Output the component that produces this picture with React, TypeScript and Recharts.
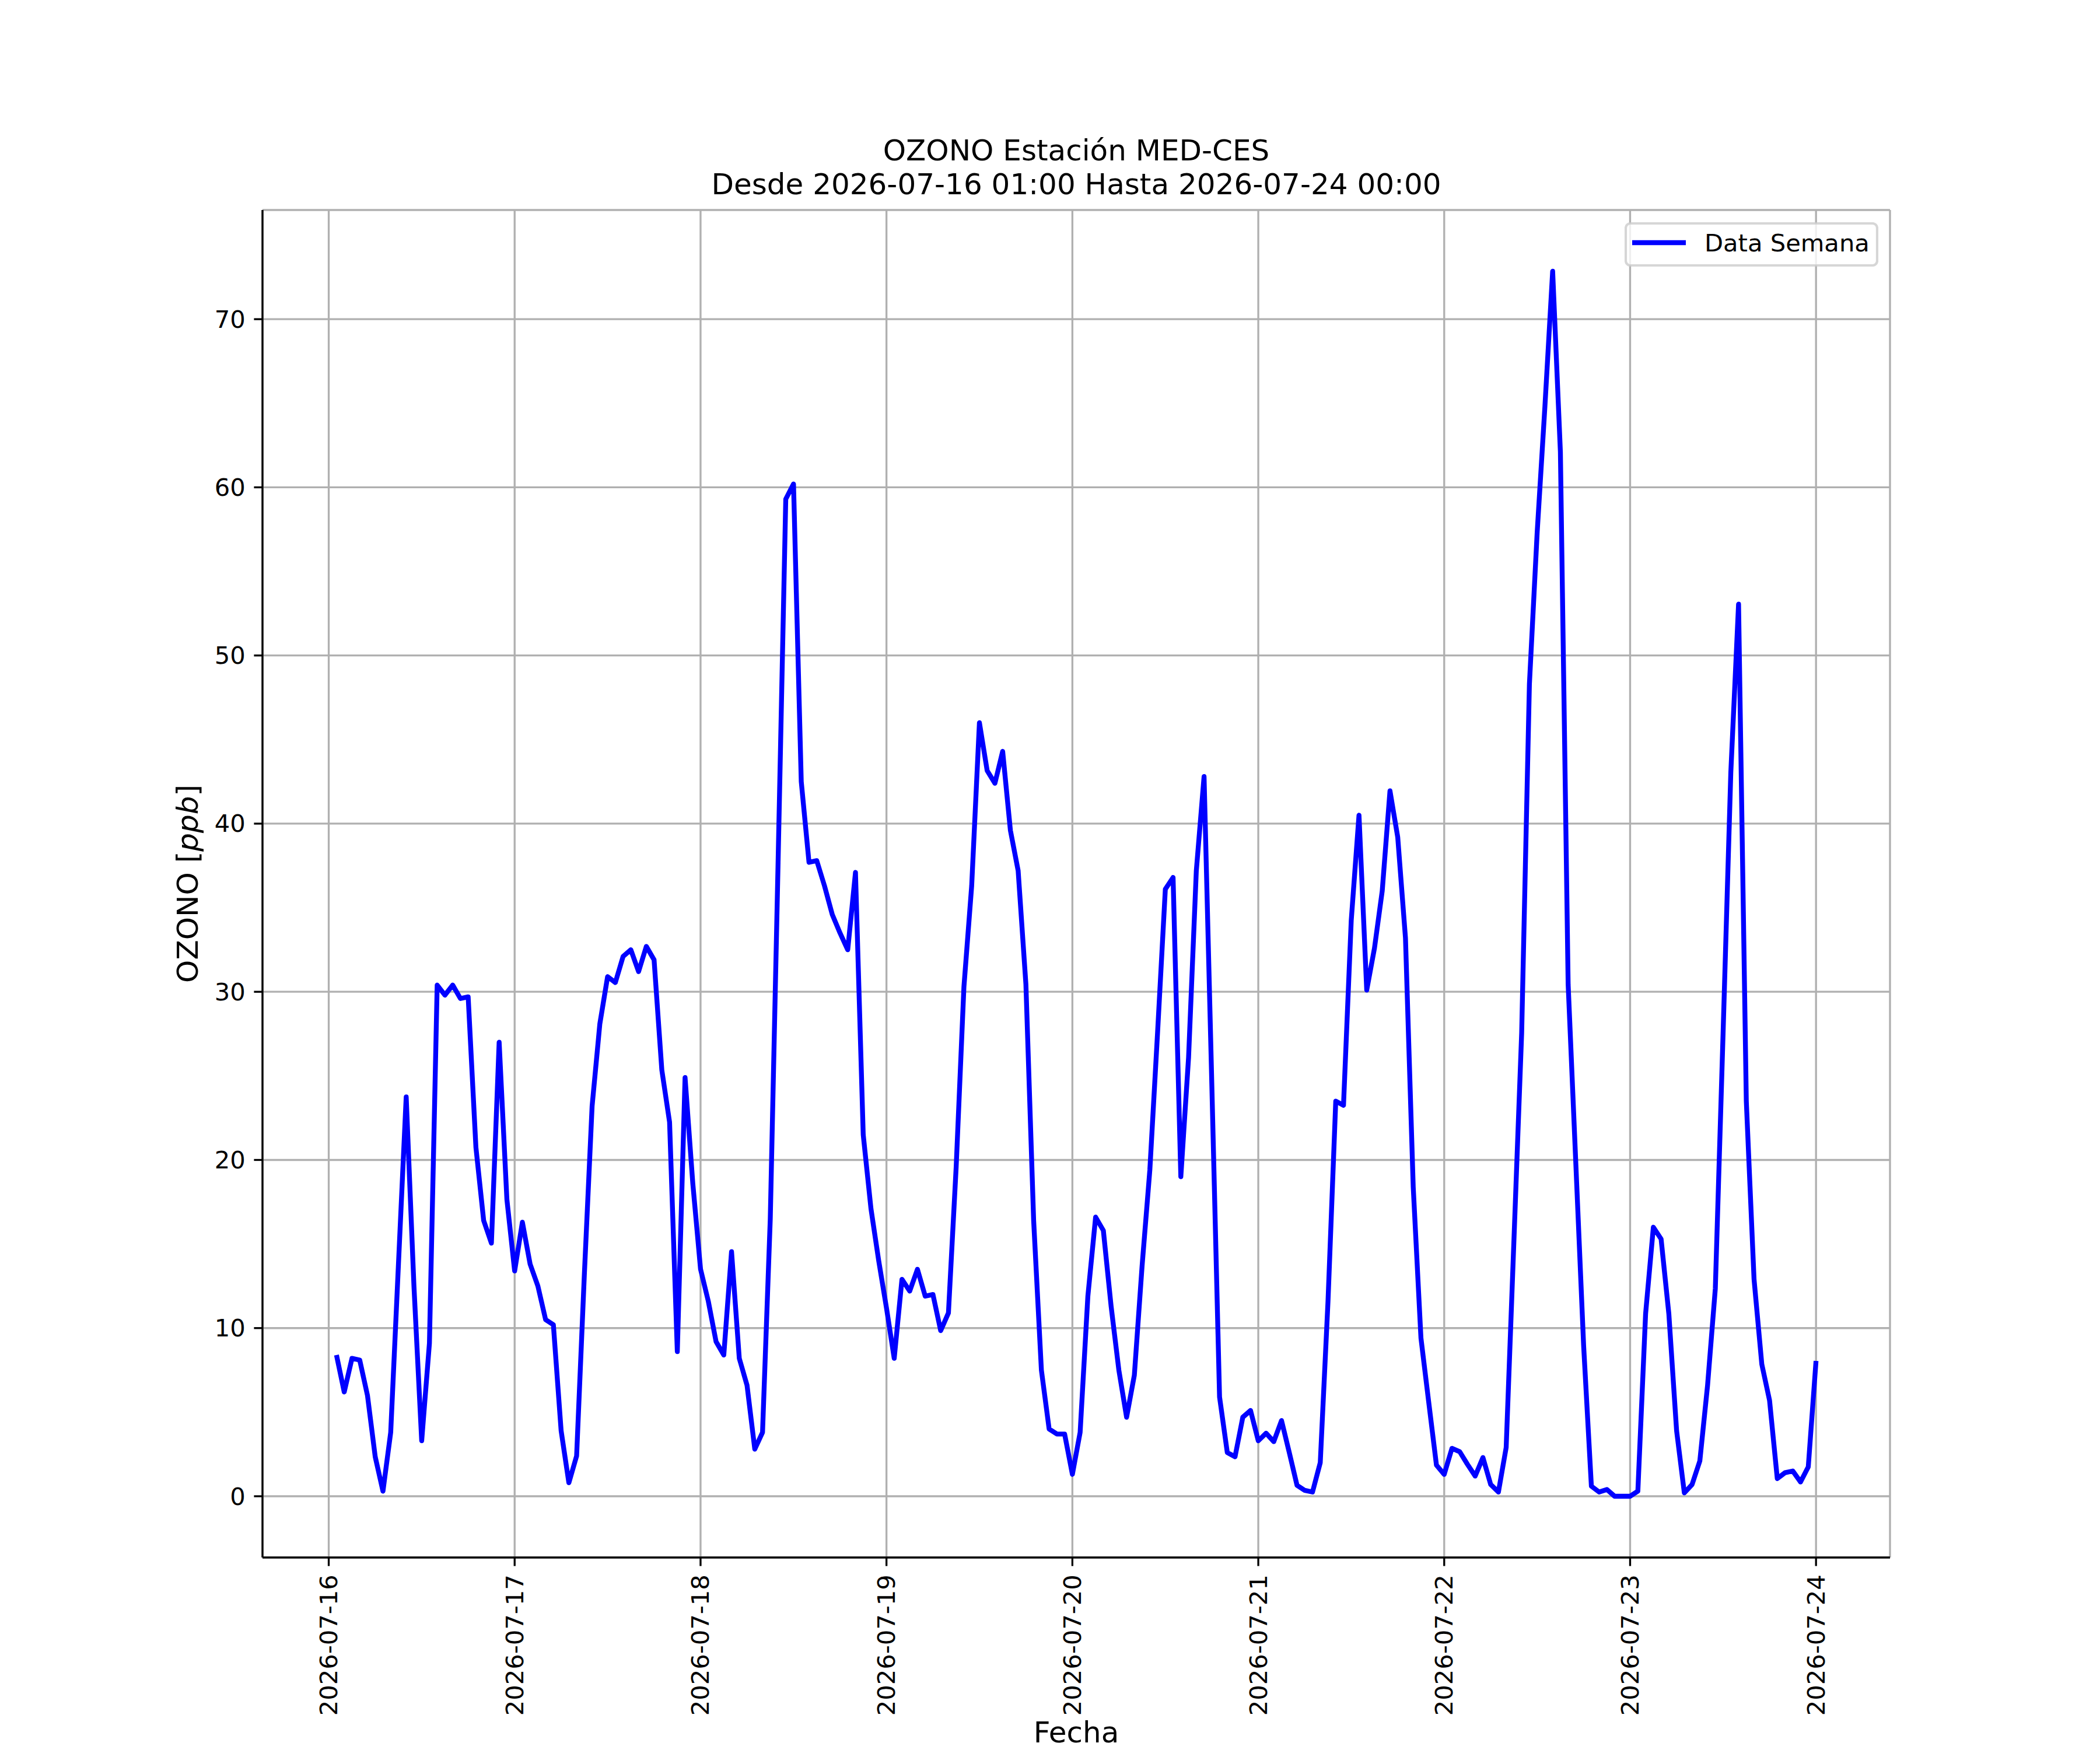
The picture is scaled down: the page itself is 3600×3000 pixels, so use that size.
import {
  LineChart,
  Line,
  XAxis,
  YAxis,
  CartesianGrid,
  Legend,
  Customized,
} from "recharts";

// hourly ozone, each array runs 01:00 of that day to 00:00 of the next
const JUL16 = [8.4, 6.2, 8.2, 8.1, 6.0, 2.35, 0.3, 3.8, 13.8, 23.75, 12.5, 3.3, 9.1, 30.4, 29.8, 30.4, 29.6, 29.7, 20.75, 16.4, 15.05, 27.0, 17.65, 13.4];
const JUL17 = [16.3, 13.8, 12.5, 10.5, 10.2, 3.9, 0.8, 2.4, 13.2, 23.2, 28.1, 30.9, 30.55, 32.1, 32.5, 31.2, 32.7, 31.9, 25.35, 22.25, 8.6, 24.9, 18.6, 13.5];
const JUL18 = [11.6, 9.2, 8.4, 14.55, 8.2, 6.6, 2.8, 3.8, 16.5, 37.5, 59.3, 60.2, 42.5, 37.7, 37.8, 36.3, 34.6, 33.5, 32.5, 37.1, 21.5, 17.1, 14.0, 11.2];
const JUL19 = [8.2, 12.9, 12.2, 13.5, 11.9, 12.0, 9.85, 10.9, 19.6, 30.3, 36.3, 46.0, 43.15, 42.4, 44.3, 39.6, 37.2, 30.45, 16.4, 7.5, 4.0, 3.7, 3.7, 1.3];
const JUL20 = [3.8, 11.9, 16.6, 15.8, 11.3, 7.5, 4.7, 7.2, 13.7, 19.4, 27.6, 36.1, 36.8, 19.0, 26.1, 37.2, 42.8, 24.5, 5.9, 2.6, 2.35, 4.7, 5.1, 3.3];
const JUL21 = [3.75, 3.25, 4.5, 2.6, 0.65, 0.35, 0.25, 2.0, 11.6, 23.5, 23.25, 34.25, 40.5, 30.1, 32.6, 36.0, 41.95, 39.2, 33.2, 18.4, 9.4, 5.6, 1.85, 1.3];
const JUL22 = [2.85, 2.65, 1.9, 1.2, 2.3, 0.7, 0.25, 2.9, 15.2, 27.55, 48.3, 57.3, 64.8, 72.85, 62.1, 30.45, 19.7, 8.95, 0.6, 0.25, 0.4, 0, 0, 0];
const JUL23 = [0.3, 10.85, 16.0, 15.3, 10.85, 3.9, 0.2, 0.7, 2.1, 6.6, 12.35, 27.5, 43.05, 53.05, 23.5, 12.9, 7.85, 5.7, 1.05, 1.4, 1.5, 0.85, 1.75, 8.05];

const DAY_LABELS = [
  "2026-07-16",
  "2026-07-17",
  "2026-07-18",
  "2026-07-19",
  "2026-07-20",
  "2026-07-21",
  "2026-07-22",
  "2026-07-23",
  "2026-07-24",
];
const Y_TICKS = [0, 10, 20, 30, 40, 50, 60, 70];

const SERIES_NAME = "Data Semana";
const TITLE_1 = "OZONO Estación MED-CES";
const TITLE_2 = "Desde 2026-07-16 01:00 Hasta 2026-07-24 00:00";
const X_LABEL = "Fecha";

// x = hours since 2026-07-16 00:00
const values = [...JUL16, ...JUL17, ...JUL18, ...JUL19, ...JUL20, ...JUL21, ...JUL22, ...JUL23];
const data = values.map((v, i) => ({ hour: i + 1, ozono: v }));
const xTicks = DAY_LABELS.map((_, i) => i * 24);

// matplotlib-like 5% autoscale margins
const xMin = data[0].hour;
const xMax = data[data.length - 1].hour;
const yMin = Math.min(...values);
const yMax = Math.max(...values);
const xPad = (xMax - xMin) * 0.05;
const yPad = (yMax - yMin) * 0.05;

const W = 3600;
const H = 3000;
const LEFT = 450;
const RIGHT = 3240;
const TOP = 360;
const BOTTOM = 2670;
const Y_AXIS_W = 150;
const X_AXIS_H = 250;

const FONT = "'DejaVu Sans', sans-serif";
const TICK_FS = 41.67;
const LABEL_FS = 50;
const LW = 3.33;
const TICK_LEN = 14.6;

function XTick(props: any) {
  const { x, y, payload } = props;
  const label = DAY_LABELS[Math.round(payload.value / 24)];
  return (
    <text
      x={x}
      y={y}
      transform={`rotate(-90, ${x}, ${y})`}
      textAnchor="end"
      dominantBaseline="central"
      fontFamily={FONT}
      fontSize={TICK_FS}
      fill="#000"
    >
      {label}
    </text>
  );
}

function YTick(props: any) {
  const { x, y, payload } = props;
  return (
    <text
      x={x}
      y={y}
      textAnchor="end"
      dominantBaseline="central"
      fontFamily={FONT}
      fontSize={TICK_FS}
      fill="#000"
    >
      {payload.value}
    </text>
  );
}

function Texts() {
  const cx = (LEFT + RIGHT) / 2;
  const cy = (TOP + BOTTOM) / 2;
  return (
    <g fontFamily={FONT} fill="#000">
      <text x={cx} y={275} textAnchor="middle" fontSize={LABEL_FS}>
        {TITLE_1}
      </text>
      <text x={cx} y={333} textAnchor="middle" fontSize={LABEL_FS}>
        {TITLE_2}
      </text>
      <text x={cx} y={2987} textAnchor="middle" fontSize={LABEL_FS}>
        {X_LABEL}
      </text>
      <text
        x={322}
        y={cy}
        transform={`rotate(-90, 322, ${cy})`}
        textAnchor="middle"
        dominantBaseline="central"
        fontSize={LABEL_FS}
      >
        <tspan>OZONO [</tspan>
        <tspan fontStyle="italic">ppb</tspan>
        <tspan>]</tspan>
      </text>
    </g>
  );
}

function LegendBox(props: any) {
  const item = (props.payload || [])[0];
  return (
    <svg width={435} height={76} style={{ display: "block" }}>
      <rect
        x={2}
        y={2}
        width={431}
        height={72}
        rx={8}
        ry={8}
        fill="rgba(255,255,255,0.8)"
        stroke="rgba(204,204,204,0.8)"
        strokeWidth={4.17}
      />
      <line x1={13} x2={105} y1={35} y2={35} stroke={item ? item.color : "#0000ff"} strokeWidth={8.33} />
      <text x={137} y={50} fontFamily={FONT} fontSize={TICK_FS} fill="#000">
        {item ? item.value : SERIES_NAME}
      </text>
    </svg>
  );
}

export default function App() {
  return (
    <div style={{ position: "absolute", left: 0, top: 0, width: W, height: H, background: "#fff" }}>
      <LineChart
        width={W}
        height={H}
        data={data}
        margin={{
          top: TOP,
          right: W - RIGHT,
          bottom: H - BOTTOM - X_AXIS_H,
          left: LEFT - Y_AXIS_W,
        }}
      >
        <CartesianGrid stroke="#b0b0b0" strokeWidth={LW} />
        <XAxis
          dataKey="hour"
          type="number"
          domain={[xMin - xPad, xMax + xPad]}
          allowDataOverflow
          ticks={xTicks}
          interval={0}
          height={X_AXIS_H}
          tickSize={TICK_LEN}
          tickMargin={TICK_LEN}
          tick={<XTick />}
          axisLine={{ stroke: "#000", strokeWidth: LW }}
          tickLine={{ stroke: "#000", strokeWidth: LW }}
        />
        <XAxis
          xAxisId="top"
          dataKey="hour"
          type="number"
          orientation="top"
          domain={[xMin - xPad, xMax + xPad]}
          allowDataOverflow
          height={0}
          tick={false}
          tickLine={false}
          axisLine={{ stroke: "#000", strokeWidth: LW }}
        />
        <YAxis
          type="number"
          domain={[yMin - yPad, yMax + yPad]}
          allowDataOverflow
          ticks={Y_TICKS}
          interval={0}
          width={Y_AXIS_W}
          tickSize={TICK_LEN}
          tickMargin={TICK_LEN}
          tick={<YTick />}
          axisLine={{ stroke: "#000", strokeWidth: LW }}
          tickLine={{ stroke: "#000", strokeWidth: LW }}
        />
        <YAxis
          yAxisId="right"
          orientation="right"
          type="number"
          domain={[yMin - yPad, yMax + yPad]}
          allowDataOverflow
          width={0}
          tick={false}
          tickLine={false}
          axisLine={{ stroke: "#000", strokeWidth: LW }}
        />
        <Line
          type="linear"
          dataKey="ozono"
          name={SERIES_NAME}
          stroke="#0000ff"
          strokeWidth={8.33}
          strokeLinejoin="round"
          dot={false}
          activeDot={false}
          isAnimationActive={false}
        />
        <Legend
          layout="horizontal"
          verticalAlign="middle"
          align="center"
          wrapperStyle={{ left: 2785, top: 381, width: 435, height: 76 }}
          content={<LegendBox />}
        />
        <Customized component={<Texts />} />
      </LineChart>
    </div>
  );
}
